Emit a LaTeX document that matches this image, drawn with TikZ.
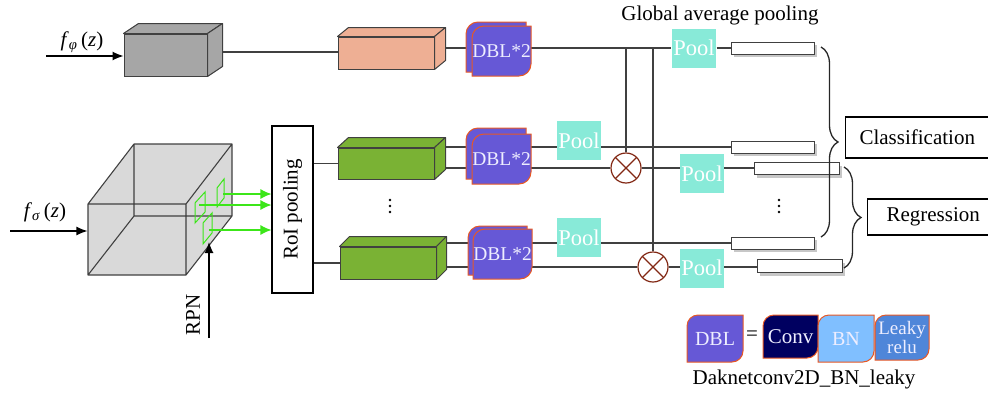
\documentclass[tikz,border=0pt]{standalone}
\usepackage{fontspec}
\setmainfont{Liberation Serif}
\usetikzlibrary{arrows.meta,calc,decorations.pathreplacing,backgrounds,shadows}
\definecolor{lc}{RGB}{64,64,64}
\definecolor{boxgray}{RGB}{166,166,166}
\definecolor{salmonc}{RGB}{238,175,148}
\definecolor{grn}{RGB}{122,178,52}
\definecolor{dblc}{RGB}{102,88,214}
\definecolor{dblb}{RGB}{232,88,36}
\definecolor{dblt}{RGB}{238,238,255}
\definecolor{poolc}{RGB}{136,234,216}
\definecolor{otc}{RGB}{130,40,20}
\definecolor{cubec}{RGB}{217,217,217}
\definecolor{garrow}{RGB}{60,230,25}
\definecolor{convc}{RGB}{0,0,96}
\definecolor{bnc}{RGB}{128,191,255}
\definecolor{leakyc}{RGB}{79,134,217}
\newcommand\leafshape[6]{%
  \draw[dblb, line width=1pt, fill=#6] (#1,#4) -- (#1,#2+#5) arc[start angle=180,end angle=270,radius=#5] -- (#3,#2) -- (#3,#4-#5) arc[start angle=0,end angle=90,radius=#5] -- cycle;}
\newcommand\cuboid[8]{%
  \node[draw=lc, fill=#8, minimum width=#4pt, minimum height=#5pt, inner sep=0pt, line width=1pt] (#1) at (#2,#3) {};
  \draw[lc, fill=#8, line join=round, line width=1pt] (#1.north west) -- ++(#6,#7) -- ([shift={(#6,#7)}]#1.north east) -- (#1.north east) -- cycle;
  \draw[lc, fill=#8, line join=round, line width=1pt] (#1.north east) -- ++(#6,#7) -- ([shift={(#6,#7)}]#1.south east) -- (#1.south east) -- cycle;}
\newcommand\vdotsmark[2]{%
  \fill[black] (#1,#2-6) circle[radius=1.3] (#1,#2) circle[radius=1.3] (#1,#2+6) circle[radius=1.3];}
\begin{document}
\begin{tikzpicture}[x=1pt,y=-1pt, line width=1.1pt, font=\fontsize{21}{24}\selectfont,
  conn/.style={draw=lc, line width=1.1pt},
  pool/.style={fill=poolc, text=white, minimum width=44pt, minimum height=39pt, inner sep=0pt, font=\fontsize{22.5}{24}\selectfont},
  rbox/.style={draw=lc, fill=white, minimum height=12pt, inner sep=0pt, line width=1pt, drop shadow={shadow xshift=3pt, shadow yshift=-3pt, fill=black!22, opacity=1}},
  otimes/.style={circle, draw=otc, fill=white, minimum size=30pt, inner sep=0pt, line width=1.2pt, path picture={\draw[otc, line width=1.2pt] (path picture bounding box.north west) -- (path picture bounding box.south east) (path picture bounding box.north east) -- (path picture bounding box.south west);}},
  dbltext/.style={text=dblt, font=\fontsize{19.5}{22}\selectfont, inner sep=0pt},
  legtext/.style={text=dblt, font=\fontsize{20}{19}\selectfont, inner sep=0pt, align=center},
  garr/.style={draw=garrow, line width=1.2pt, -{Latex[length=11pt,width=10pt]}},
  barr/.style={draw=black, line width=1.2pt, -{Latex[length=11pt,width=9pt]}},
  brc/.style={draw=black!85, line width=1.3pt, decorate, decoration={brace, amplitude=17pt}},
]
\useasboundingbox (0,0) rectangle (988,394);

% cuboids
\cuboid{gbox}{165.5}{55}{83}{42}{15}{-10}{boxgray}
\cuboid{sal}{386}{53}{96}{32}{11}{-9}{salmonc}
\cuboid{green1}{386}{163.5}{96}{31}{11}{-10}{grn}
\cuboid{green2}{388}{263}{96}{32}{10}{-10}{grn}

% big cube
\fill[cubec] (88,204) -- (134,144) -- (232,144) -- (232,216) -- (186,275) -- (88,275) -- cycle;
\draw[lc, line width=1.1pt, line join=round] (88,204) rectangle (186,275) (134,144) rectangle (232,216)
  (88,204) -- (134,144) (186,204) -- (232,144) (186,275) -- (232,216) (88,275) -- (134,216);
\node[minimum width=98pt, minimum height=71pt, inner sep=0pt] (cube) at (137,239.5) {};

% green regions
\draw[garrow, line width=1pt] (195,203) -- (205,192) -- (205,212) -- (195,223) -- cycle;
\draw[garrow, line width=1pt] (217,188) -- (224,179) -- (224,198) -- (217,207) -- cycle;
\draw[garrow, line width=1pt] (203,223) -- (212,213) -- (212,233) -- (203,244) -- cycle;

% RoI pooling
\node[draw=black, minimum width=41pt, minimum height=167pt, inner sep=0pt, line width=1.1pt] (roi) at (292.5,209.5) {};
\node[rotate=90] (roitext) at (roi.center) {RoI pooling};

\coordinate (ga1) at (223,194);
\coordinate (ga2) at (199,205);
\coordinate (ga3) at (209,230);
\draw[garr] (ga1) -- (ga1 -| roi.west);
\draw[garr] (ga2) -- (ga2 -| roi.west);
\draw[garr] (ga3) -- (ga3 -| roi.west);

% inputs
\coordinate (fp0) at (46,56);
\draw[barr] (fp0) -- (fp0 -| gbox.west);
\node (lphi) at (82,42) {\textit{f}\textsubscript{\textit{φ}}\,(\textit{z})};
\coordinate (fs0) at (10,231);
\draw[barr] (fs0) -- (fs0 -| cube.west);
\node (lsig) at (45,212) {\textit{f}\textsubscript{\textit{σ}}\,(\textit{z})};
\coordinate (rpn0) at (209,338);
\coordinate (rpn1) at (209,242);
\draw[barr] (rpn0) -- (rpn1);
\node[rotate=90] (rpnl) at (193,315) {RPN};

% DBL*2 blocks
\leafshape{466}{22}{526}{72}{12}{dblc}
\leafshape{472}{26}{531}{76}{12}{dblc}
\node[dbltext] (d1) at (501.5,51) {DBL*2};
\leafshape{466}{128}{526}{179}{12}{dblc}
\leafshape{472}{134}{531}{184}{12}{dblc}
\node[dbltext] (d2) at (501.5,159) {DBL*2};
\leafshape{468}{226}{527}{275}{12}{dblc}
\leafshape{473}{229}{532}{279}{12}{dblc}
\node[dbltext] (d3) at (502.5,254) {DBL*2};

\vdotsmark{390}{206}
\vdotsmark{779}{206}

% pools
\node[pool] (p1) at (694,48) {Pool};
\node[pool] (p2) at (579,140.5) {Pool};
\node[pool] (p3) at (702,173.5) {Pool};
\node[pool] (p4) at (579,237.5) {Pool};
\node[pool] (p5) at (702,268) {Pool};
\node (gap) at (720,15) {Global average pooling};

% multipliers
\node[otimes] (c1) at (626,168) {};
\node[otimes] (c2) at (653,267) {};

% feature vectors
\node[rbox, minimum width=83pt] (r1) at (772.5,48) {};
\node[rbox, minimum width=83pt] (r2) at (772.5,147) {};
\node[rbox, minimum width=85pt] (r3) at (796.5,168.5) {};
\node[rbox, minimum width=83pt] (r4) at (772.5,243) {};
\node[rbox, minimum width=85pt, minimum height=13pt] (r5) at (799.5,266) {};

% braces and outputs
\coordinate (bA) at (821,47);
\coordinate (bB) at (821,237);
\draw[brc] (bA) -- (bB);
\coordinate (bC) at (844,167);
\coordinate (bD) at (844,268);
\draw[brc] (bC) -- (bD);
\node[draw=black, line width=1.1pt, anchor=west, minimum height=41pt, inner xsep=14pt] (cls) at (845,137.5) {Classification};
\node[draw=black, line width=1.1pt, anchor=west, minimum height=36pt, inner xsep=19pt] (reg) at (867,217) {Regression};

% legend
\leafshape{687}{315}{743}{362}{11}{dblc}
\node[legtext] (ldbl) at (715,338.5) {DBL};
\node (eq) at (752,336) {=};
\leafshape{763}{315}{818}{358}{11}{convc}
\node[legtext, font=\fontsize{21}{20}\selectfont] (lconv) at (790.5,336.5) {Conv};
\leafshape{818}{315}{874}{362}{11}{bnc}
\node[legtext] (lbn) at (846,338.5) {BN};
\leafshape{875}{315}{929}{360}{11}{leakyc}
\node[legtext, font=\fontsize{19}{19}\selectfont] (lleaky) at (902,337.5) {Leaky\\relu};
\node (lcap) at (804,379) {Daknetconv2D\_BN\_leaky};

% connectors
\begin{scope}[on background layer]
\coordinate (gr) at ($(gbox.east)+(15,-3)$);
\draw[conn] (gr) -- (gr -| sal.west);
\coordinate (sr) at ($(sal.east)+(11,-5)$);
\draw[conn] (sr) -- (sr -| p1.west);
\draw[conn] (p1.east) -- (p1.east -| r1.west);
\draw[conn] (c1 |- sr) -- (c1.north);
\draw[conn] (c2 |- sr) -- (c2.north);
\coordinate (g1u) at ($(green1.east)+(11,-16.5)$);
\draw[conn] (g1u) -- (g1u -| r2.west);
\coordinate (g1l) at ($(green1.east)+(11,4.5)$);
\draw[conn] (g1l) -- (c1.west);
\draw[conn] (c1.east) -- (c1.east -| r3.west);
\coordinate (g2u) at ($(green2.east)+(10,-20)$);
\draw[conn] (g2u) -- (g2u -| r4.west);
\coordinate (g2l) at ($(green2.east)+(10,4)$);
\draw[conn] (g2l) -- (c2.west);
\draw[conn] (c2.east) -- (c2.east -| r5.west);
\draw[conn] (roi.east |- green1.west) -- (green1.west);
\draw[conn] (roi.east |- green2.west) -- (green2.west);
\end{scope}
\end{tikzpicture}
\end{document}
